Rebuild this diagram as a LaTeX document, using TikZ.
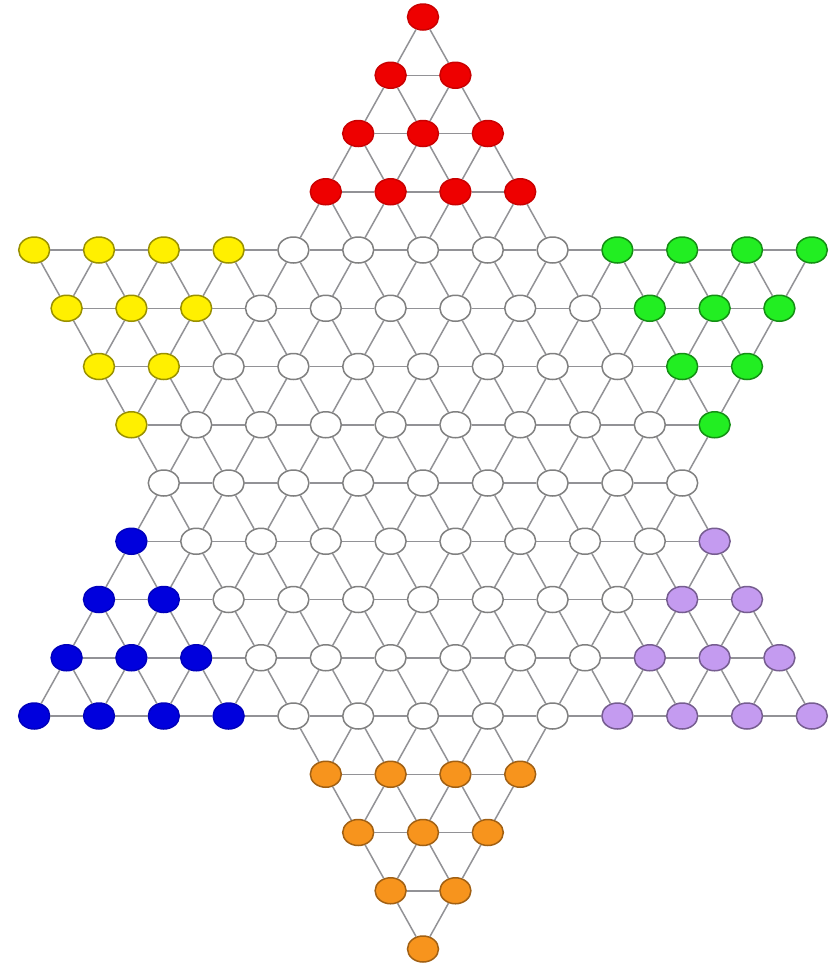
\documentclass[tikz,border=0pt]{standalone}
\usetikzlibrary{shapes.geometric}
\definecolor{cred}{HTML}{EE0000}
\definecolor{cyel}{HTML}{FFF000}
\definecolor{cgrn}{HTML}{22EE22}
\definecolor{cblu}{HTML}{0000DD}
\definecolor{cpur}{HTML}{C49BF0}
\definecolor{corg}{HTML}{F7941D}
\definecolor{cedge}{HTML}{929296}
\tikzset{
  hole/.style={ellipse, minimum width=31pt, minimum height=26pt, inner sep=0pt, line width=1.5pt},
  edge/.style={draw=cedge, line width=1.5pt}
}
\begin{document}
\begin{tikzpicture}[x=1pt,y=-1pt]
\useasboundingbox[fill=white] (0,0) rectangle (834,967);
\foreach \r in {0,...,16}{
 \foreach \c in {0,...,24}{
  \pgfmathtruncatemacro\kk{\c-12}
  \pgfmathtruncatemacro\pp{mod(\r+\c,2)}
  \pgfmathtruncatemacro\inup{(\r<=12)&&(abs(\kk)<=\r)}
  \pgfmathtruncatemacro\indn{(\r>=4)&&(abs(\kk)<=16-\r)}
  \ifnum\pp=0 \ifnum\numexpr\inup+\indn\relax>0
    \def\col{white}\def\bcol{gray}
    \ifnum\r<4 \def\col{cred}\def\bcol{cred!85!black}\fi
    \ifnum\r>12 \def\col{corg}\def\bcol{corg!65!black}\fi
    \ifnum\r>3 \ifnum\r<8
      \ifnum\kk<-\r \def\col{cyel}\def\bcol{cyel!60!black}\fi
      \ifnum\kk>\r \def\col{cgrn}\def\bcol{cgrn!60!black}\fi
    \fi\fi
    \ifnum\r>8 \ifnum\r<13
      \ifnum\kk<\numexpr\r-16\relax \def\col{cblu}\def\bcol{cblu!85!black}\fi
      \ifnum\kk>\numexpr16-\r\relax \def\col{cpur}\def\bcol{cpur!60!black}\fi
    \fi\fi
    \node[hole, fill=\col, draw=\bcol] (n-\r-\c) at ({423+32.4*\kk},{17+58.25*\r}) {};
    \expandafter\gdef\csname st-\r-\c\endcsname{}
  \fi\fi
 }
}
\foreach \r in {0,...,16}{
 \foreach \c in {0,...,24}{
  \ifcsname st-\r-\c\endcsname
    \pgfmathtruncatemacro\ca{\c+2}
    \pgfmathtruncatemacro\cb{\c+1}
    \pgfmathtruncatemacro\cm{\c-1}
    \pgfmathtruncatemacro\rn{\r+1}
    \ifcsname st-\r-\ca\endcsname \draw[edge] (n-\r-\c) -- (n-\r-\ca); \fi
    \ifcsname st-\rn-\cb\endcsname \draw[edge] (n-\r-\c) -- (n-\rn-\cb); \fi
    \ifcsname st-\rn-\cm\endcsname \draw[edge] (n-\r-\c) -- (n-\rn-\cm); \fi
  \fi
 }
}
\end{tikzpicture}
\end{document}
